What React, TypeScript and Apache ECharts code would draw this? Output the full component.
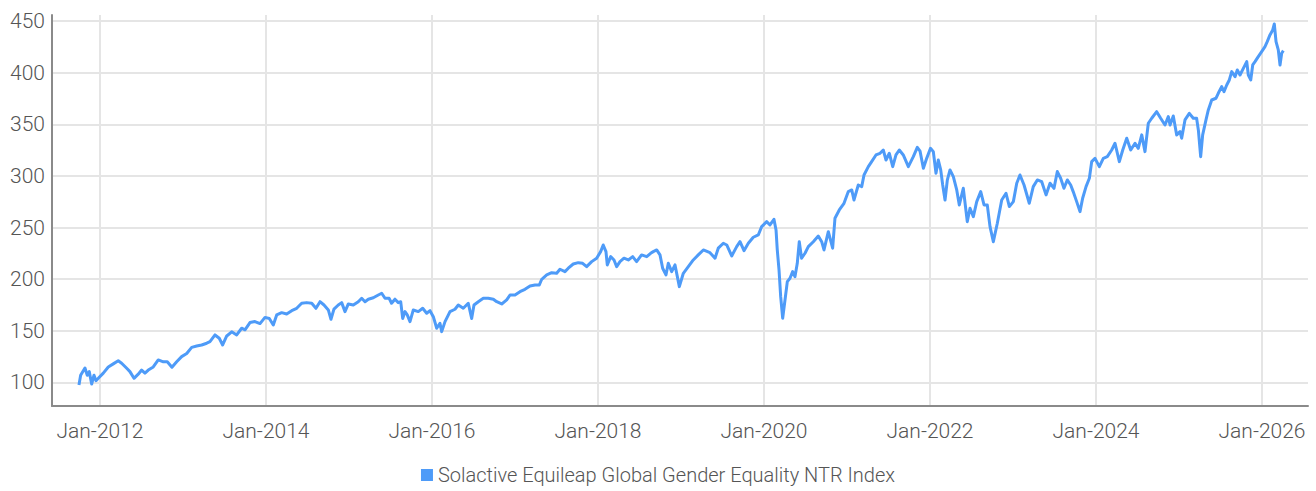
import React, { useEffect, useRef } from "react";
import * as echarts from "echarts";

// Decimal-year positions of the sampled points
const years: number[] = [
  2011.747, 2011.767, 2011.819, 2011.847, 2011.871, 2011.9, 2011.928, 2011.952, 2011.98,
  2012.04, 2012.1, 2012.16, 2012.22, 2012.261, 2012.322, 2012.361, 2012.41, 2012.461, 2012.502,
  2012.542, 2012.582, 2012.642, 2012.702, 2012.763, 2012.811, 2012.867, 2012.924, 2012.984,
  2013.045, 2013.105, 2013.165, 2013.225, 2013.286, 2013.325, 2013.386, 2013.437, 2013.478,
  2013.527, 2013.587, 2013.647, 2013.707, 2013.747, 2013.807, 2013.867, 2013.928, 2013.988,
  2014.04, 2014.088, 2014.129, 2014.189, 2014.249, 2014.31, 2014.37, 2014.43, 2014.49, 2014.551,
  2014.602, 2014.651, 2014.699, 2014.751, 2014.783, 2014.819, 2014.871, 2014.912, 2014.952,
  2014.992, 2015.052, 2015.112, 2015.153, 2015.193, 2015.233, 2015.293, 2015.353, 2015.394,
  2015.434, 2015.484, 2015.513, 2015.554, 2015.594, 2015.623, 2015.647, 2015.675, 2015.702,
  2015.735, 2015.775, 2015.835, 2015.888, 2015.936, 2015.976, 2016.016, 2016.057, 2016.096,
  2016.117, 2016.157, 2016.217, 2016.277, 2016.317, 2016.377, 2016.437, 2016.478, 2016.506,
  2016.558, 2016.618, 2016.678, 2016.739, 2016.78, 2016.84, 2016.9, 2016.94, 2017.0, 2017.06,
  2017.12, 2017.181, 2017.241, 2017.293, 2017.322, 2017.382, 2017.442, 2017.502, 2017.542,
  2017.602, 2017.642, 2017.702, 2017.763, 2017.815, 2017.863, 2017.924, 2017.984, 2018.032,
  2018.063, 2018.096, 2018.112, 2018.153, 2018.193, 2018.225, 2018.265, 2018.313, 2018.365,
  2018.418, 2018.465, 2018.525, 2018.587, 2018.634, 2018.666, 2018.707, 2018.747, 2018.779,
  2018.819, 2018.847, 2018.888, 2018.928, 2018.98, 2019.028, 2019.088, 2019.148, 2019.208,
  2019.269, 2019.349, 2019.41, 2019.449, 2019.51, 2019.551, 2019.611, 2019.671, 2019.711,
  2019.759, 2019.811, 2019.871, 2019.931, 2019.972, 2020.032, 2020.072, 2020.12, 2020.145,
  2020.16, 2020.181, 2020.201, 2020.225, 2020.253, 2020.281, 2020.313, 2020.345, 2020.373,
  2020.401, 2020.425, 2020.453, 2020.494, 2020.534, 2020.594, 2020.654, 2020.695, 2020.723,
  2020.775, 2020.827, 2020.855, 2020.907, 2020.964, 2021.016, 2021.057, 2021.084, 2021.136,
  2021.177, 2021.205, 2021.257, 2021.297, 2021.349, 2021.398, 2021.437, 2021.47, 2021.51,
  2021.551, 2021.59, 2021.63, 2021.678, 2021.739, 2021.799, 2021.847, 2021.88, 2021.92,
  2021.96, 2022.006, 2022.04, 2022.072, 2022.1, 2022.129, 2022.153, 2022.181, 2022.209,
  2022.241, 2022.281, 2022.322, 2022.353, 2022.401, 2022.449, 2022.482, 2022.522, 2022.563,
  2022.611, 2022.651, 2022.69, 2022.723, 2022.763, 2022.811, 2022.864, 2022.916, 2022.956,
  2023.004, 2023.045, 2023.084, 2023.133, 2023.196, 2023.244, 2023.293, 2023.346, 2023.398,
  2023.446, 2023.494, 2023.534, 2023.574, 2023.614, 2023.654, 2023.695, 2023.725, 2023.767,
  2023.807, 2023.839, 2023.88, 2023.92, 2023.948, 2023.988, 2024.04, 2024.088, 2024.136,
  2024.189, 2024.229, 2024.281, 2024.322, 2024.37, 2024.418, 2024.47, 2024.509, 2024.551,
  2024.59, 2024.63, 2024.671, 2024.731, 2024.779, 2024.831, 2024.871, 2024.892, 2024.931,
  2024.972, 2025.012, 2025.032, 2025.072, 2025.124, 2025.172, 2025.212, 2025.233, 2025.261,
  2025.285, 2025.325, 2025.353, 2025.394, 2025.446, 2025.473, 2025.514, 2025.542, 2025.575,
  2025.606, 2025.635, 2025.675, 2025.702, 2025.735, 2025.775, 2025.816, 2025.835, 2025.864,
  2025.888, 2025.916, 2025.955, 2025.996, 2026.036, 2026.063, 2026.096, 2026.129, 2026.148,
  2026.169, 2026.196, 2026.217, 2026.237, 2026.257,
];

// Index values (NTR) at those positions
const indexValues: number[] = [
  97.6, 107, 114, 107, 110.5, 98.5, 107, 101.7, 104,
  109, 115, 118, 121, 118.6, 113.7, 110.5, 104, 108, 112,
  109, 112, 115, 121.8, 120, 120, 114.7, 120, 125,
  128, 134, 135.3, 136.3, 138, 139.5, 146, 142.8, 136.3,
  145, 149, 146, 152.5, 151, 158, 159, 157, 163,
  162, 155.7, 165.4, 167.6, 166.3, 169.5, 171.8, 176.7, 177.3, 176.7,
  171.8, 178.2, 175, 170.2, 161.2, 171, 175, 177.3, 168.6,
  176, 175, 178.2, 181.5, 178.2, 180.6, 182, 184.7, 186.4,
  181.5, 181.5, 176.7, 180.6, 177.3, 178.2, 162, 168.6, 165.4,
  158.9, 170.2, 168.6, 171.8, 167, 169.5, 163.7, 152.5, 157.3,
  149.2, 158.9, 168.6, 170.9, 175, 171.8, 176.7, 162, 175,
  178.2, 181.5, 181.5, 180.6, 178.2, 176, 179.9, 184.7, 184.7, 187.9,
  190.2, 193.4, 194.4, 194.4, 199.9, 204.1, 206.3, 205.7, 209.6,
  207.3, 210.6, 214.7, 216, 215.4, 212.1, 217, 220.3, 226.7,
  233.1, 226.7, 213.8, 221.8, 218.6, 212.1, 217, 220.3, 218.6,
  221.8, 217, 223.5, 221.8, 225.1, 226.7, 228.3, 223.5, 210.6,
  204.1, 215.4, 207.3, 213.8, 192.8, 205.7, 212.1, 218.6, 223.5,
  228.3, 225.7, 220.3, 230, 234.8, 233.1, 222.5, 231.5, 236.3,
  227.6, 234.8, 240.6, 242.8, 250.9, 255.7, 252.5, 258, 247.7,
  228.3, 209, 183.1, 162.2, 179.9, 197.6, 200.9, 207.3, 202.4,
  215.4, 236.3, 220.3, 225.1, 231.5, 236.3, 241.8, 236.3, 228.3,
  246, 230, 259, 267, 273.5, 284.8, 286.4, 276.7, 291.2,
  289.6, 300.9, 309, 313.8, 320.3, 321.9, 325.1, 315.4, 321.9,
  309, 320.3, 325.1, 320.3, 309, 318.6, 327.7, 324, 307.4,
  317, 326.7, 323.5, 302.6, 315.4, 305.8, 291.2, 276.7, 296.1,
  305.8, 299.3, 286.4, 271.9, 288, 255.7, 268.7, 260.6, 275.1,
  284.8, 271.9, 271.9, 250.9, 236.3, 254.1, 276.7, 283.2, 270.3,
  275.1, 292.9, 300.9, 291.2, 273.5, 289.6, 296.1, 294.4, 281.6,
  292.9, 288, 304.2, 297.7, 288, 296.1, 291.2, 284.8, 275.1,
  265.4, 278.4, 289.6, 297.7, 313.8, 317, 309, 317, 318.6,
  325.1, 331.6, 313.8, 325.1, 336.5, 325.1, 331.6, 326.7, 339.7,
  323.5, 351, 355.8, 362.2, 355.8, 349.3, 357.4, 349.3, 358,
  339.7, 342.9, 336.5, 354.2, 360.6, 355.8, 355.8, 344.5, 318.6,
  339.7, 354.2, 363.9, 373.5, 375.2, 380, 386.4, 381.6, 388,
  392.9, 401, 396.1, 402.6, 397.7, 404.2, 410.6, 397.7, 392.9,
  407.4, 410.6, 415.5, 420.3, 425.2, 430, 436.5, 441.3, 447.1,
  430, 422, 407.4, 418.8, 421.3,
];

const yearTicks: number[] = [2012, 2014, 2016, 2018, 2020, 2022, 2024, 2026];
const valueTicks: number[] = [100, 150, 200, 250, 300, 350, 400, 450];
const seriesName = "Solactive Equileap Global Gender Equality NTR Index";

const FONT = "Roboto";
const LINE_COLOR = "#4e9bf8";

export default function App() {
  const ref = useRef<HTMLDivElement>(null);

  useEffect(() => {
    if (!ref.current) return;
    const chart = echarts.init(ref.current, undefined, { renderer: "svg" });
    const data = years.map((y, i) => [y, indexValues[i]]);
    chart.setOption({
      animation: false,
      backgroundColor: "#ffffff",
      textStyle: { fontFamily: FONT },
      grid: { left: 52, right: 8, top: 15, bottom: 85 },
      legend: {
        data: [{ name: seriesName, icon: "rect" }],
        bottom: 1,
        left: "center",
        itemWidth: 12,
        itemHeight: 12,
        textStyle: { fontFamily: FONT, fontSize: 20, fontWeight: 300, color: "#555" },
      },
      xAxis: {
        type: "value",
        min: 2011.422,
        max: 2026.554,
        axisLine: { show: true, onZero: false, lineStyle: { color: "#8a8a8a", width: 2 } },
        axisTick: { show: false, customValues: yearTicks },
        axisLabel: {
          customValues: yearTicks,
          formatter: (v: number) => "Jan-" + Math.round(v),
          fontFamily: FONT,
          fontSize: 21,
          fontWeight: 300,
          color: "#555",
          margin: 14,
        },
        splitLine: { show: true, lineStyle: { color: "#e5e5e5", width: 2 } },
      },
      yAxis: {
        type: "value",
        min: 77.2,
        max: 455.8,
        axisLine: { show: true, lineStyle: { color: "#8a8a8a", width: 2 } },
        axisTick: { show: false, customValues: valueTicks },
        axisLabel: {
          customValues: valueTicks,
          fontFamily: FONT,
          fontSize: 21,
          fontWeight: 300,
          color: "#555",
          margin: 7,
        },
        splitLine: { show: true, lineStyle: { color: "#e5e5e5", width: 2 } },
      },
      series: [
        {
          name: seriesName,
          type: "line",
          data,
          showSymbol: false,
          symbol: "none",
          color: LINE_COLOR,
          lineStyle: { color: LINE_COLOR, width: 3, join: "round" },
        },
      ],
    });
    return () => chart.dispose();
  }, []);

  return (
    <div
      ref={ref}
      style={{ position: "fixed", left: 0, top: 0, width: 1316, height: 491 }}
    />
  );
}
